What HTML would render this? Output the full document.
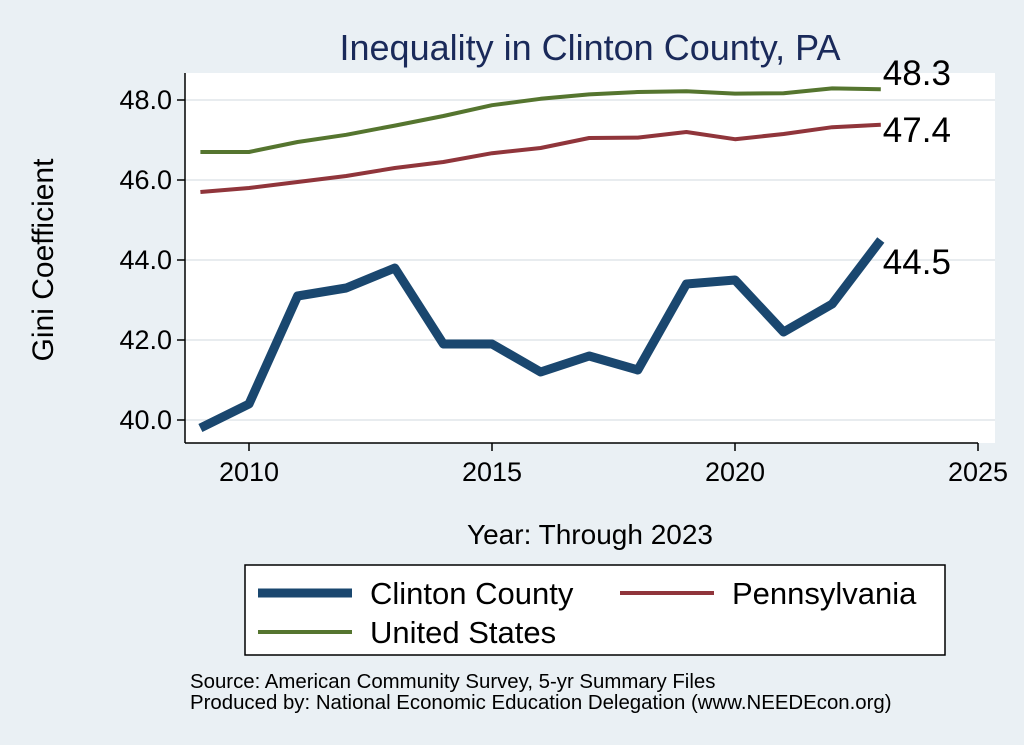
<!DOCTYPE html>
<html><head><meta charset="utf-8"><style>
body{margin:0;background:#eaf0f4;}
svg{display:block;font-family:"Liberation Sans",Arial,sans-serif;}
</style></head><body>
<svg id="chart" width="1024" height="745" viewBox="0 0 1024 745">
<rect x="0" y="0" width="1024" height="745" fill="#eaf0f4"/>
<rect x="185" y="73" width="810" height="370" fill="#ffffff"/>
<text x="590" y="60" text-anchor="middle" font-size="36" fill="#1a2a5a">Inequality in Clinton County, PA</text>
<g id="grid"></g>
<g id="axes"></g>
<g id="series"></g>
<text x="53" y="260" text-anchor="middle" font-size="30" fill="#000" transform="rotate(-90 53 260)">Gini Coefficient</text>
<text x="590" y="544" text-anchor="middle" font-size="28" fill="#000">Year: Through 2023</text>
<g>
<rect x="245" y="565" width="700" height="90" fill="#fff" stroke="#000" stroke-width="1.5"/>
<line x1="258" y1="593" x2="352" y2="593" stroke="#1a476f" stroke-width="9"/>
<text x="370" y="604" font-size="31">Clinton County</text>
<line x1="620" y1="593" x2="714" y2="593" stroke="#90353b" stroke-width="4"/>
<text x="732" y="604" font-size="31">Pennsylvania</text>
<line x1="258" y1="632" x2="352" y2="632" stroke="#55752f" stroke-width="4"/>
<text x="370" y="643" font-size="31">United States</text>
</g>
<text x="190" y="688" font-size="20.4">Source: American Community Survey, 5-yr Summary Files</text>
<text x="190" y="709" font-size="20.4">Produced by: National Economic Education Delegation (www.NEEDEcon.org)</text>
</svg>
<script>
const years=[2009,2010,2011,2012,2013,2014,2015,2016,2017,2018,2019,2020,2021,2022,2023];
const clinton=[39.8,40.4,43.1,43.3,43.8,41.9,41.9,41.2,41.6,41.25,43.4,43.5,42.2,42.9,44.5];
const penn=[45.7,45.8,45.95,46.1,46.3,46.45,46.67,46.8,47.05,47.06,47.2,47.02,47.15,47.32,47.38];
const us=[46.7,46.7,46.95,47.13,47.36,47.6,47.87,48.03,48.14,48.2,48.22,48.16,48.17,48.29,48.27];
const yTicks=[40,42,44,46,48];
const xTicks=[2010,2015,2020,2025];
const NS="http://www.w3.org/2000/svg";
const xs=v=>249+(v-2010)*48.6;
const ys=v=>420-(v-40)*40;
function mk(tag,attrs,parent){const e=document.createElementNS(NS,tag);for(const k in attrs)e.setAttribute(k,attrs[k]);parent.appendChild(e);return e;}
const grid=document.getElementById('grid'),axes=document.getElementById('axes'),ser=document.getElementById('series');
yTicks.forEach(t=>{
 const g=mk('line',{x1:185,x2:995,y1:ys(t),y2:ys(t),stroke:'#e8ecef','stroke-width':2},grid);
 
 
 const tk=mk('line',{x1:177,x2:185,y1:ys(t),y2:ys(t),stroke:'#000','stroke-width':1.5},axes);
 
 
 const l=mk('text',{x:172,y:ys(t)+9,'text-anchor':'end','font-size':27},axes);
 l.textContent=t.toFixed(1);
 
 
});
xTicks.forEach(t=>{
 const tk=mk('line',{x1:xs(t),x2:xs(t),y1:443,y2:451,stroke:'#000','stroke-width':1.5},axes);
 
 
 const l=mk('text',{x:xs(t),y:481,'text-anchor':'middle','font-size':27},axes);
 l.textContent=t;
 
 
});
const ya=mk('line',{x1:185,x2:185,y1:73,y2:443,stroke:'#000','stroke-width':1.5},axes);


const xa=mk('line',{x1:185,x2:xs(2025),y1:443,y2:443,stroke:'#000','stroke-width':1.5},axes);


function line(data,color,w,name,dy){
 const p=mk('polyline',{points:data.map((v,i)=>xs(years[i])+','+ys(v)).join(' '),fill:'none',stroke:color,'stroke-width':w,'stroke-linejoin':'round'},ser);
 
 
 const last=data[data.length-1];
 const l=mk('text',{x:xs(years[years.length-1])+2,y:ys(last)+dy,'font-size':35},ser);
 l.textContent=last.toFixed(1);
 
 
}
line(us,'#55752f',4,'us-line',-4);
line(penn,'#90353b',4,'pennsylvania-line',17);
line(clinton,'#1a476f',9,'clinton-line',34);
</script>
</body></html>
